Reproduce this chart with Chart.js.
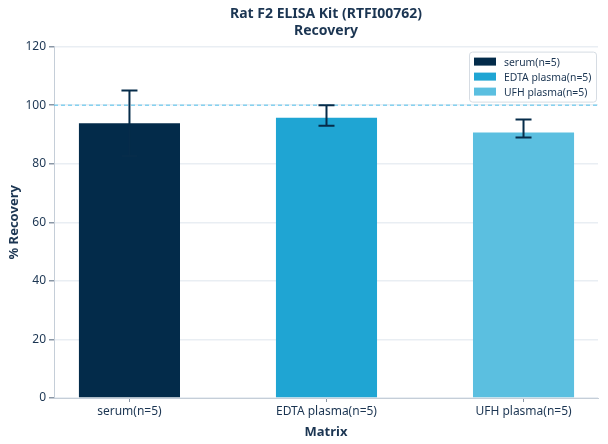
<!DOCTYPE html>
<html lang="en">
<head>
    <meta charset="UTF-8">
    <title>Rat F2 ELISA Kit Recovery</title>
    <script src="https://cdn.jsdelivr.net/npm/chart.js"></script>
    <style>
        body {
            margin: 0;
            background-color: white;
            font-family: 'Noto Sans', sans-serif;
        }

        #wrap {
            width: 608px;
            height: 444px;
        }
    </style>
</head>
<body>
    <div id="wrap"><canvas id="recoveryChart" width="608" height="444"></canvas></div>

    <script>
        const categories = ['serum(n=5)', 'EDTA plasma(n=5)', 'UFH plasma(n=5)'];
        const recovery = [93.8, 95.7, 90.7];
        const errLow = [82.6, 93.0, 89.0];
        const errHigh = [105.0, 100.0, 95.1];
        const yTicks = [0, 20, 40, 60, 80, 100, 120];
        const refValue = 100;
        const colors = ['#032b4a', '#1fa5d3', '#5bbfe0'];

        const ink = '#1b3552';
        const font = "'Noto Sans', sans-serif";

        // error bars, dashed 100% line and the legend box
        const extras = {
            id: 'extras',
            beforeDatasetsDraw(chart) {
                const ctx = chart.ctx;
                const yp = chart.scales.y.getPixelForValue(refValue);
                ctx.save();
                ctx.strokeStyle = '#4fc0ec';
                ctx.lineWidth = 1;
                ctx.setLineDash([4, 3]);
                ctx.beginPath();
                ctx.moveTo(chart.chartArea.left, yp);
                ctx.lineTo(chart.chartArea.right, yp);
                ctx.stroke();
                ctx.restore();
            },
            afterDatasetsDraw(chart) {
                const ctx = chart.ctx;
                const x = chart.scales.x, y = chart.scales.y;
                ctx.save();
                ctx.strokeStyle = '#062c4a';
                ctx.lineWidth = 2;
                categories.forEach((c, i) => {
                    const xp = x.getPixelForValue(i);
                    const lo = y.getPixelForValue(errLow[i]);
                    const hi = y.getPixelForValue(errHigh[i]);
                    ctx.beginPath();
                    ctx.moveTo(xp, lo); ctx.lineTo(xp, hi);
                    ctx.moveTo(xp - 8, lo); ctx.lineTo(xp + 8, lo);
                    ctx.moveTo(xp - 8, hi); ctx.lineTo(xp + 8, hi);
                    ctx.stroke();
                });
                ctx.restore();
            },
            afterDraw(chart) {
                const ctx = chart.ctx;
                const area = chart.chartArea;
                const w = 127, h = 50;
                const bx = area.right - w - 2, by = area.top + 5;
                ctx.save();
                ctx.fillStyle = 'rgba(255,255,255,0.9)';
                ctx.strokeStyle = '#d6dce3';
                ctx.lineWidth = 1;
                ctx.beginPath();
                ctx.roundRect(bx + 0.5, by + 0.5, w, h, 3);
                ctx.fill();
                ctx.stroke();
                ctx.font = '10.4px ' + font;
                ctx.textBaseline = 'middle';
                chart.data.datasets.forEach((ds, i) => {
                    const ry = by + 10 + i * 15;
                    ctx.fillStyle = ds.backgroundColor;
                    ctx.fillRect(bx + 5, ry - 4, 22, 8);
                    ctx.fillStyle = ink;
                    ctx.fillText(ds.label, bx + 35, ry + 1);
                });
                ctx.restore();
            }
        };

        new Chart(document.getElementById('recoveryChart'), {
            type: 'bar',
            data: {
                datasets: categories.map((c, i) => ({
                    label: c,
                    data: [{ x: i, y: recovery[i] }],
                    backgroundColor: colors[i],
                    borderWidth: 0,
                    grouped: false,
                    barPercentage: 0.513,
                    categoryPercentage: 1
                }))
            },
            options: {
                responsive: false,
                animation: false,
                layout: { padding: { right: 10, top: 6 } },
                plugins: {
                    legend: { display: false },
                    tooltip: { enabled: false },
                    title: {
                        display: true,
                        fullSize: false,
                        text: ['Rat F2 ELISA Kit (RTFI00762)', 'Recovery'],
                        color: ink,
                        font: { family: font, size: 14, weight: 'bold', lineHeight: 1.2 },
                        padding: { top: 0, bottom: 7 }
                    }
                },
                scales: {
                    x: {
                        type: 'linear',
                        offset: false,
                        min: -0.383,
                        max: 2.378,
                        afterBuildTicks: s => { s.ticks = categories.map((c, i) => ({ value: i })); },
                        afterFit: s => { s.height = 46; },
                        ticks: {
                            color: ink,
                            font: { family: font, size: 12 },
                            padding: 2,
                            maxRotation: 0,
                            callback: v => categories[v]
                        },
                        grid: { offset: false, drawOnChartArea: false, tickLength: 4, tickColor: '#8a97a6' },
                        border: { color: '#c5ced8', width: 1 },
                        title: {
                            display: true,
                            text: 'Matrix',
                            color: ink,
                            font: { family: font, size: 13, weight: 'bold' },
                            padding: { top: 0 }
                        }
                    },
                    y: {
                        min: 0,
                        max: 120,
                        afterBuildTicks: s => { s.ticks = yTicks.map(v => ({ value: v })); },
                        afterFit: s => { s.width = 54; },
                        ticks: {
                            color: ink,
                            font: { family: font, size: 12 },
                            padding: 3
                        },
                        grid: {
                            color: '#e9eef3',
                            lineWidth: 1.5,
                            tickColor: '#8a97a6',
                            tickLength: 5
                        },
                        border: { color: '#c5ced8', width: 1 },
                        title: {
                            display: true,
                            text: '% Recovery',
                            color: ink,
                            font: { family: font, size: 13, weight: 'bold' },
                            padding: { bottom: 0, top: 6 }
                        }
                    }
                }
            },
            plugins: [extras]
        });
    </script>
</body>
</html>
